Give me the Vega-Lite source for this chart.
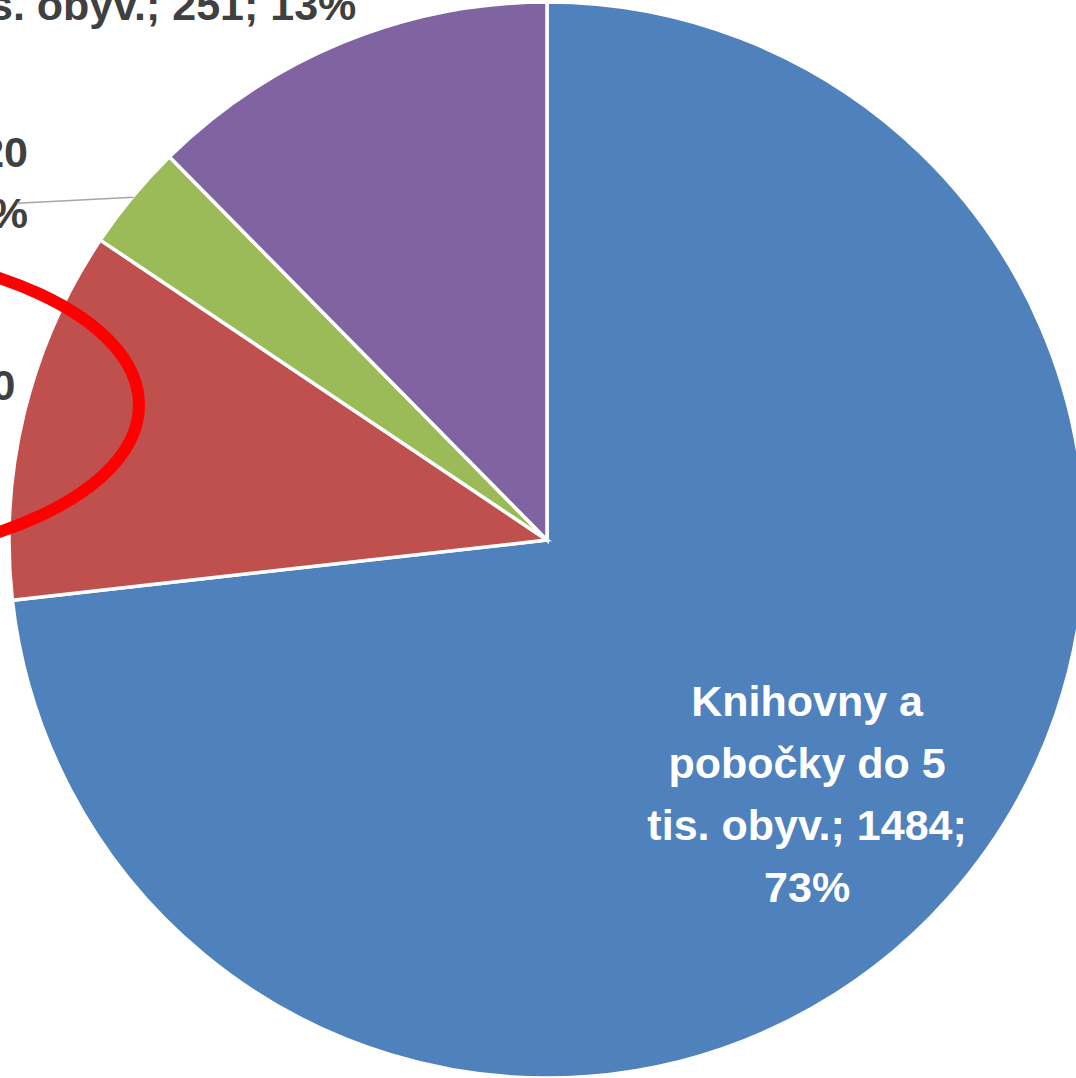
{
  "$schema": "https://vega.github.io/schema/vega-lite/v6.json",
  "width": 1094,
  "height": 1080,
  "autosize": "none",
  "padding": 0,
  "background": "white",
  "config": {"view": {"stroke": null}},
  "datasets": {
    "kategorie": [
      {"poradi": 1, "kategorie": "do 5 tis. obyv.", "pocet": 1484, "popisek": "Knihovny a\npobočky do 5\ntis. obyv.; 1484;\n73%"},
      {"poradi": 2, "kategorie": "5 - 10 tis. obyv.", "pocet": 227, "popisek": "Knihovny a pobočky 5 - 10\ntis. obyv.; 227; 11%"},
      {"poradi": 3, "kategorie": "10 - 20 tis. obyv.", "pocet": 65, "popisek": "Knihovny a pobočky 10 - 20\ntis. obyv.; 65; 3%"},
      {"poradi": 4, "kategorie": "nad 20 tis. obyv.", "pocet": 251, "popisek": "Knihovny a pobočky nad 20\ntis. obyv.; 251; 13%"}
    ],
    "elipsa": [{"u": -1.3911, "v": 0.2514}],
    "vodici": [
      {"u": -0.7700, "v": 0.6381, "k": 1},
      {"u": -0.9870, "v": 0.6270, "k": 2}
    ]
  },
  "layer": [
    {
      "data": {"name": "kategorie"},
      "mark": {"type": "arc", "outerRadius": 538, "stroke": "white", "strokeWidth": 3.5},
      "encoding": {
        "theta": {"field": "pocet", "type": "quantitative", "stack": true},
        "order": {"field": "poradi", "type": "quantitative"},
        "color": {
          "field": "kategorie", "type": "nominal", "legend": null,
          "scale": {
            "domain": ["do 5 tis. obyv.", "5 - 10 tis. obyv.", "10 - 20 tis. obyv.", "nad 20 tis. obyv."],
            "range": ["#4F81BD", "#C0504D", "#9BBB59", "#8064A2"]
          }
        }
      }
    },
    {
      "data": {"name": "kategorie"},
      "mark": {"type": "text", "radius": 363, "dx": -10.6, "dy": -79, "align": "center", "baseline": "middle", "lineBreak": "\n", "lineHeight": 62, "font": "Liberation Sans", "fontWeight": "bold", "fontSize": 43, "fill": "white"},
      "encoding": {
        "theta": {"field": "pocet", "type": "quantitative", "stack": true},
        "order": {"field": "poradi", "type": "quantitative"},
        "detail": {"field": "kategorie", "type": "nominal"},
        "text": {"condition": {"test": "datum.poradi === 1", "field": "popisek"}, "value": ""}
      }
    },
    {
      "data": {"name": "kategorie"},
      "mark": {"type": "text", "radius": 537, "dx": -281, "dy": -12.6, "align": "center", "baseline": "alphabetic", "lineBreak": "\n", "lineHeight": 61, "font": "Liberation Sans", "fontWeight": "bold", "fontSize": 43, "fill": "#404040"},
      "encoding": {
        "theta": {"field": "pocet", "type": "quantitative", "stack": true},
        "order": {"field": "poradi", "type": "quantitative"},
        "detail": {"field": "kategorie", "type": "nominal"},
        "text": {"condition": {"test": "datum.poradi === 2", "field": "popisek"}, "value": ""}
      }
    },
    {
      "data": {"name": "kategorie"},
      "mark": {"type": "text", "radius": 537, "dx": -105.5, "dy": -30, "align": "right", "baseline": "alphabetic", "lineBreak": "\n", "lineHeight": 61, "font": "Liberation Sans", "fontWeight": "bold", "fontSize": 43, "fill": "#404040"},
      "encoding": {
        "theta": {"field": "pocet", "type": "quantitative", "stack": true},
        "order": {"field": "poradi", "type": "quantitative"},
        "detail": {"field": "kategorie", "type": "nominal"},
        "text": {"condition": {"test": "datum.poradi === 3", "field": "popisek"}, "value": ""}
      }
    },
    {
      "data": {"name": "kategorie"},
      "mark": {"type": "text", "radius": 537, "dx": -183.8, "dy": -85, "align": "center", "baseline": "alphabetic", "lineBreak": "\n", "lineHeight": 62, "font": "Liberation Sans", "fontWeight": "bold", "fontSize": 43, "fill": "#404040"},
      "encoding": {
        "theta": {"field": "pocet", "type": "quantitative", "stack": true},
        "order": {"field": "poradi", "type": "quantitative"},
        "detail": {"field": "kategorie", "type": "nominal"},
        "text": {"condition": {"test": "datum.poradi === 4", "field": "popisek"}, "value": ""}
      }
    },
    {
      "data": {"name": "vodici"},
      "mark": {"type": "line", "stroke": "#A6A6A6", "strokeWidth": 1.5},
      "encoding": {
        "x": {"field": "u", "type": "quantitative", "axis": null, "scale": {"domain": [-1.018622, 1.018622], "nice": false, "zero": false}},
        "y": {"field": "v", "type": "quantitative", "axis": null, "scale": {"domain": [-1.005587, 1.005587], "nice": false, "zero": false}},
        "order": {"field": "k", "type": "quantitative"}
      }
    },
    {
      "data": {"name": "elipsa"},
      "mark": {
        "type": "point", "filled": false, "stroke": "#FF0000", "strokeWidth": 12, "opacity": 1, "size": 459684,
        "shape": "M -1 0 C -1 -0.2557 -0.5523 -0.463 0 -0.463 C 0.5523 -0.463 1 -0.2557 1 0 C 1 0.2557 0.5523 0.463 0 0.463 C -0.5523 0.463 -1 0.2557 -1 0 Z"
      },
      "encoding": {
        "x": {"field": "u", "type": "quantitative", "axis": null, "scale": {"domain": [-1.018622, 1.018622], "nice": false, "zero": false}},
        "y": {"field": "v", "type": "quantitative", "axis": null, "scale": {"domain": [-1.005587, 1.005587], "nice": false, "zero": false}}
      }
    }
  ]
}
